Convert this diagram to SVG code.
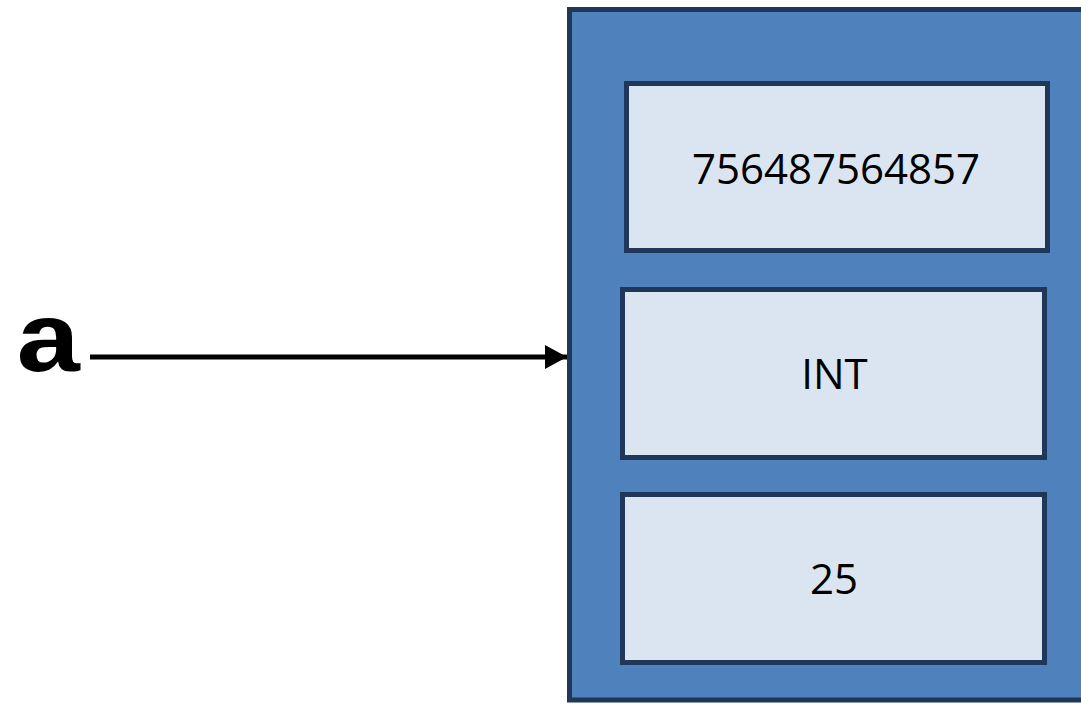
<svg xmlns="http://www.w3.org/2000/svg" width="1081" height="704" viewBox="0 0 1081 704">
  <style>
    .outer { fill: #4F81BD; stroke: #1F3859; stroke-width: 5; }
    .cell { fill: #DBE5F1; stroke: #1F3859; stroke-width: 5; }
    .val { font-family: "Open Sans", "Liberation Sans", sans-serif; font-size: 42px; fill: #000; text-anchor: middle; }
    .var { font-family: "Liberation Mono", monospace; font-weight: bold; font-size: 98px; fill: #000; }
    .link { stroke: #000; stroke-width: 5; fill: none; }
  </style>
  <defs>
    <marker id="arrow" markerUnits="userSpaceOnUse" markerWidth="24" markerHeight="24" refX="22" refY="12" orient="auto">
      <path d="M0,0 L22,12 L0,24 Z" fill="#000"/>
    </marker>
  </defs>
  <rect width="1081" height="704" fill="#fff"/>

  <g id="object">
    <rect class="outer" x="569.5" y="9.5" width="520" height="690.5"/>
  </g>
  <g id="cell-id">
    <rect class="cell" x="626.5" y="83.5" width="421" height="167"/>
    <text class="val" x="836" y="184">756487564857</text>
  </g>
  <g id="cell-type">
    <rect class="cell" x="622.5" y="289.5" width="422" height="168"/>
    <text class="val" x="834.5" y="389">INT</text>
  </g>
  <g id="cell-value">
    <rect class="cell" x="622.5" y="494.5" width="422" height="168"/>
    <text class="val" x="834" y="594">25</text>
  </g>
  <g id="name-a">
    <text class="var" transform="translate(14,371) scale(1.18,1)" x="0" y="0">a</text>
  </g>
  <g id="connectors">
    <line class="link" x1="90" y1="357" x2="567" y2="357" marker-end="url(#arrow)"/>
  </g>
</svg>
